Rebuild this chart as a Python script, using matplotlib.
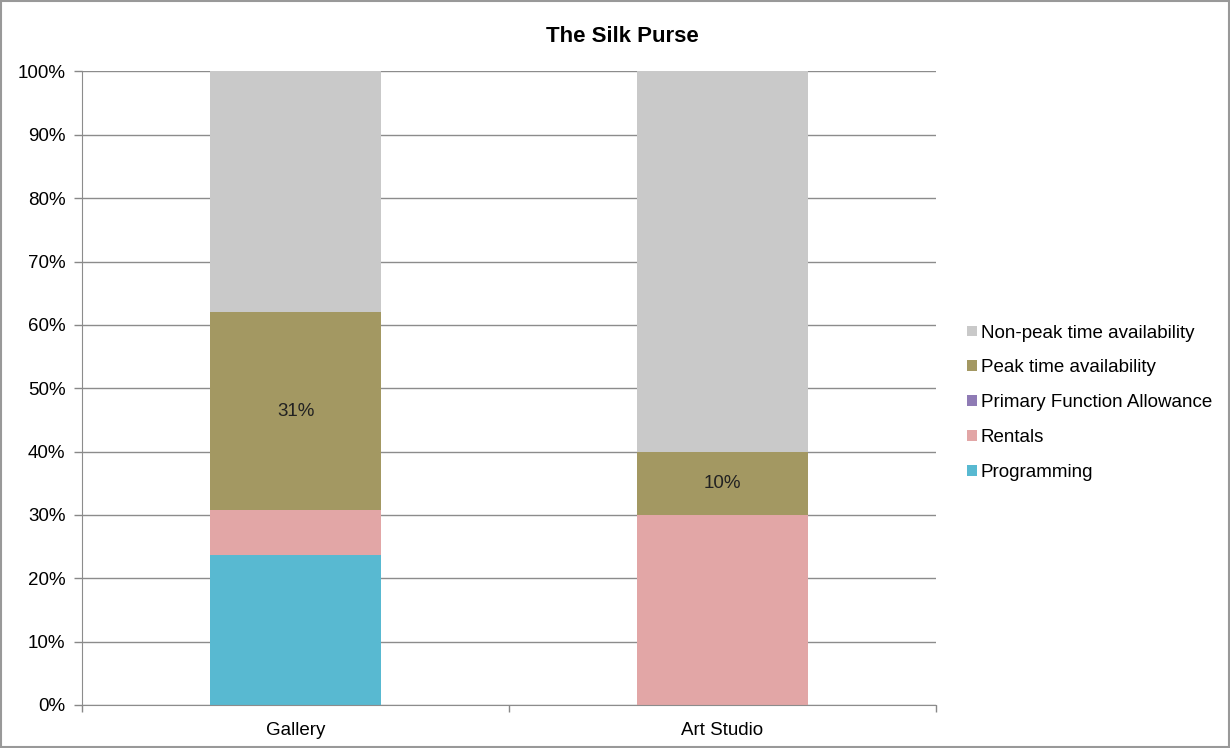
import matplotlib.pyplot as plt
from matplotlib.patches import Patch, Rectangle
from matplotlib.ticker import PercentFormatter

plt.rcParams['font.family'] = ['Liberation Sans', 'DejaVu Sans']

categories = ["Gallery", "Art Studio"]
series = ["Programming", "Rentals", "Primary Function Allowance",
          "Peak time availability", "Non-peak time availability"]
programming = [0.236, 0.0]
rentals = [0.071, 0.30]
primary_function = [0.0, 0.0]
peak_time = [0.313, 0.10]
non_peak_time = [0.380, 0.60]
colors = ["#58B9D1", "#E2A6A6", "#8F7BB5", "#A39862", "#C9C9C9"]

values = [programming, rentals, primary_function, peak_time, non_peak_time]

fig = plt.figure(figsize=(12.3, 7.48), dpi=100)
ax = fig.add_axes([0.0667, 0.0575, 0.6943, 0.847])

x = list(range(len(categories)))
bottom = [0.0] * len(categories)
for name, vals, col in zip(series, values, colors):
    ax.bar(x, vals, width=0.40, bottom=bottom, color=col, label=name, zorder=3)
    if name == "Peak time availability":
        for xi, v, b in zip(x, vals, bottom):
            ax.text(xi, b + v / 2, f"{round(v * 100):.0f}%", ha="center",
                    va="center", fontsize=13.5, color="#222222", zorder=4)
    bottom = [b + v for b, v in zip(bottom, vals)]

ax.set_xlim(-0.5, 1.5)
ax.set_ylim(0, 1)
ax.set_yticks([i / 10 for i in range(11)])
ax.yaxis.set_major_formatter(PercentFormatter(1.0, decimals=0))
ax.set_xticks(x)
ax.set_xticklabels(categories)
ax.set_xticks([-0.5, 0.5, 1.5], minor=True)
ax.tick_params(axis="x", which="major", length=0, pad=12, labelsize=13.5)
ax.tick_params(axis="x", which="minor", length=5, color="#888888", width=1)
ax.tick_params(axis="y", length=6, color="#888888", width=1, labelsize=13.5, pad=6)
ax.grid(axis="y", color="#8c8c8c", linewidth=1, zorder=0)
for side in ["top", "right"]:
    ax.spines[side].set_visible(False)
for side in ["left", "bottom"]:
    ax.spines[side].set_color("#8c8c8c")
    ax.spines[side].set_zorder(5)

fig.suptitle("The Silk Purse", x=0.506, y=0.951, va="center",
             fontsize=16, fontweight="bold")

handles = [Patch(facecolor=c, label=n) for n, c in zip(series, colors)][::-1]
ax.legend(handles=handles, loc="center left", bbox_to_anchor=(1.017, 0.477),
          frameon=False, fontsize=13.5, handlelength=0.5, handleheight=0.5,
          handletextpad=0.22, labelspacing=0.95)

fig.patches.append(Rectangle((0.001, 0.001), 0.998, 0.997, transform=fig.transFigure,
                             fill=False, edgecolor="#999999", linewidth=1.5))

fig.savefig("out.png", dpi=100)
